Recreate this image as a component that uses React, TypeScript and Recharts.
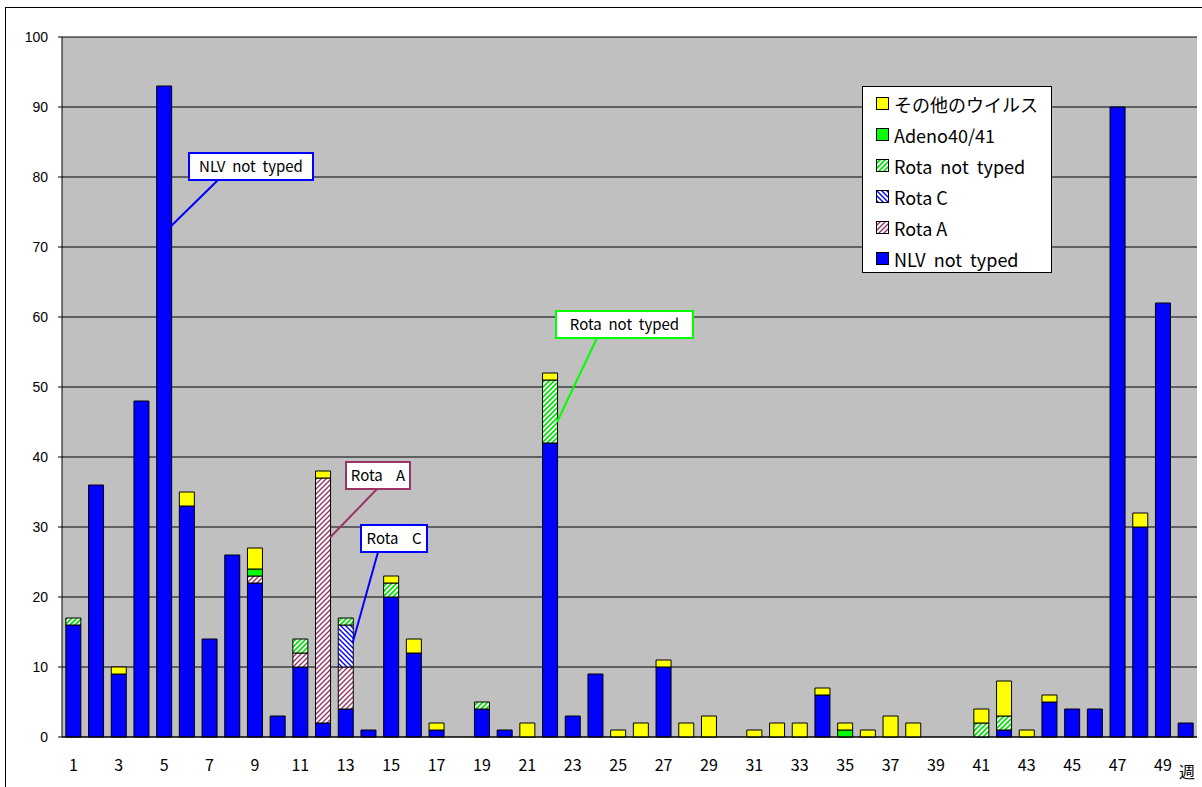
import React from 'react';
import {
  BarChart,
  Bar,
  XAxis,
  YAxis,
  CartesianGrid,
} from 'recharts';

// 週番号
const weeks = Array.from({ length: 50 }, (_, i) => String(i + 1));

// 各系列の検出数（週1〜50）
const nlv = [16, 36, 9, 48, 93, 33, 14, 26, 22, 3, 10, 2, 4, 1, 20, 12, 1, 0, 4, 1, 0, 42, 3, 9, 0, 0, 10, 0, 0, 0, 0, 0, 0, 6, 0, 0, 0, 0, 0, 0, 0, 1, 0, 5, 4, 4, 90, 30, 62, 2];
const rotaA = [0, 0, 0, 0, 0, 0, 0, 0, 1, 0, 2, 35, 6, 0, 0, 0, 0, 0, 0, 0, 0, 0, 0, 0, 0, 0, 0, 0, 0, 0, 0, 0, 0, 0, 0, 0, 0, 0, 0, 0, 0, 0, 0, 0, 0, 0, 0, 0, 0, 0];
const rotaC = [0, 0, 0, 0, 0, 0, 0, 0, 0, 0, 0, 0, 6, 0, 0, 0, 0, 0, 0, 0, 0, 0, 0, 0, 0, 0, 0, 0, 0, 0, 0, 0, 0, 0, 0, 0, 0, 0, 0, 0, 0, 0, 0, 0, 0, 0, 0, 0, 0, 0];
const rotaNT = [1, 0, 0, 0, 0, 0, 0, 0, 0, 0, 2, 0, 1, 0, 2, 0, 0, 0, 1, 0, 0, 9, 0, 0, 0, 0, 0, 0, 0, 0, 0, 0, 0, 0, 0, 0, 0, 0, 0, 0, 2, 2, 0, 0, 0, 0, 0, 0, 0, 0];
const adeno = [0, 0, 0, 0, 0, 0, 0, 0, 1, 0, 0, 0, 0, 0, 0, 0, 0, 0, 0, 0, 0, 0, 0, 0, 0, 0, 0, 0, 0, 0, 0, 0, 0, 0, 1, 0, 0, 0, 0, 0, 0, 0, 0, 0, 0, 0, 0, 0, 0, 0];
const other = [0, 0, 1, 0, 0, 2, 0, 0, 3, 0, 0, 1, 0, 0, 1, 2, 1, 0, 0, 0, 2, 1, 0, 0, 1, 2, 1, 2, 3, 0, 1, 2, 2, 1, 1, 1, 3, 2, 0, 0, 2, 5, 1, 1, 0, 0, 0, 2, 0, 0];

const yTicks = [0, 10, 20, 30, 40, 50, 60, 70, 80, 90, 100];

const data = weeks.map((w, i) => ({
  week: w,
  nlv: nlv[i],
  rotaA: rotaA[i],
  rotaC: rotaC[i],
  rotaNT: rotaNT[i],
  adeno: adeno[i],
  other: other[i],
}));

const SP2 = ' \u00A0';

// 凡例（上から表示順）
const legendItems = [
  { label: 'その他のウイルス', fill: '#FFFF00' },
  { label: 'Adeno40/41', fill: '#00FF00' },
  { label: `Rota${SP2}not${SP2}typed`, fill: 'url(#pRotaNT)' },
  { label: 'Rota C', fill: 'url(#pRotaC)' },
  { label: 'Rota A', fill: 'url(#pRotaA)' },
  { label: `NLV${SP2}not${SP2}typed`, fill: '#0000FF' },
];

const W = 1202;
const H = 787;
const PLOT_L = 62;
const PLOT_T = 37;
const PLOT_W = 1135;
const PLOT_H = 700;
const JP = '"Noto Sans CJK JP", "Noto Sans", sans-serif';

const xOf = (week: number) => PLOT_L + ((week - 0.5) * PLOT_W) / weeks.length;
const yOf = (v: number) => PLOT_T + PLOT_H - (v * PLOT_H) / 100;

const Patterns = () => (
  <defs>
    <pattern id="pRotaNT" patternUnits="userSpaceOnUse" width="5" height="5">
      <rect width="5" height="5" fill="#fff" />
      <path d="M-1,1 l2,-2 M0,5 l5,-5 M4,6 l2,-2" stroke="#00E000" strokeWidth="1.6" />
    </pattern>
    <pattern id="pRotaA" patternUnits="userSpaceOnUse" width="5" height="5">
      <rect width="5" height="5" fill="#fff" />
      <path d="M-1,1 l2,-2 M0,5 l5,-5 M4,6 l2,-2" stroke="#993366" strokeWidth="1.4" />
    </pattern>
    <pattern id="pRotaC" patternUnits="userSpaceOnUse" width="5" height="5">
      <rect width="5" height="5" fill="#fff" />
      <path d="M-1,4 l2,2 M0,0 l5,5 M4,-1 l2,2" stroke="#0000FF" strokeWidth="1.4" />
    </pattern>
  </defs>
);

const LegendBox = () => (
  <div
    style={{
      position: 'absolute',
      left: 862,
      top: 86,
      boxSizing: 'border-box',
      width: 190,
      height: 187,
      border: '1px solid #000',
      background: '#fff',
      padding: '1px 0 0 13px',
      fontFamily: JP,
      fontSize: 18,
      color: '#000',
    }}
  >
    {legendItems.map((it) => (
      <div key={it.label} style={{ display: 'flex', alignItems: 'center', height: 31 }}>
        <svg width={13} height={13} style={{ marginRight: 5, flex: 'none' }}>
          <Patterns />
          <rect x={0.5} y={0.5} width={12} height={12} fill={it.fill} stroke="#000" />
        </svg>
        <span style={{ whiteSpace: 'nowrap' }}>{it.label}</span>
      </div>
    ))}
  </div>
);

const XTick = ({ x, y, payload }: any) => (
  <text x={x} y={y + 26} textAnchor="middle" fontFamily={JP} fontSize={16} fill="#000">
    {payload.value}
  </text>
);

// 吹き出し注記
const callouts = [
  { text: `NLV${SP2}not${SP2}typed`, color: '#0000FF', box: [189, 153, 124, 27], from: [218, 180], week: 5, value: 73 },
  { text: `Rota${SP2}${SP2}A`, color: '#993366', box: [346, 462, 64, 27], from: [377, 489], week: 12, value: 28.5 },
  { text: `Rota${SP2}${SP2}C`, color: '#0000FF', box: [361, 525, 66, 27], from: [378, 552], week: 13, value: 13.5 },
  { text: `Rota${SP2}not${SP2}typed`, color: '#00FF00', box: [556, 311, 137, 27], from: [597, 338], week: 22, value: 45 },
];

const Callouts = () => (
  <svg width={W} height={H} style={{ position: 'absolute', left: 0, top: 0, pointerEvents: 'none' }}>
    {callouts.map((c) => {
      const [bx, by, bw, bh] = c.box;
      return (
        <g key={c.text}>
          <line x1={c.from[0]} y1={c.from[1]} x2={xOf(c.week) + 7} y2={yOf(c.value)} stroke={c.color} strokeWidth={2} />
          <rect x={bx} y={by} width={bw} height={bh} fill="#fff" stroke={c.color} strokeWidth={2} />
          <text x={bx + bw / 2} y={by + bh / 2 + 5} textAnchor="middle" fontFamily={JP} fontSize={15} fill="#000">
            {c.text}
          </text>
        </g>
      );
    })}
    <text x={1187} y={778} textAnchor="middle" fontFamily={JP} fontSize={16} fill="#000">
      週
    </text>
  </svg>
);

const App: React.FC = () => {
  const barProps = { stackId: 's', stroke: '#000', strokeWidth: 1, isAnimationActive: false };
  return (
    <div style={{ position: 'absolute', left: 0, top: 0, width: W, height: H, background: '#fff', overflow: 'hidden' }}>
      <div style={{ position: 'absolute', left: 5, top: 7, width: W, height: H, border: '1px solid #000' }} />
      <div style={{ position: 'absolute', left: 0, top: 0 }}>
        <BarChart
          width={W}
          height={H}
          data={data}
          margin={{ top: PLOT_T, right: W - PLOT_L - PLOT_W, bottom: 0, left: 0 }}
          barCategoryGap="17%"
        >
          <Patterns />
          <CartesianGrid vertical={false} stroke="#000" fill="#C0C0C0" />
          <XAxis
            dataKey="week"
            height={H - PLOT_T - PLOT_H}
            interval={1}
            tickLine={false}
            axisLine={{ stroke: '#000' }}
            tick={<XTick />}
          />
          <YAxis
            width={PLOT_L}
            domain={[0, 100]}
            ticks={yTicks}
            tickSize={4}
            tickMargin={10}
            axisLine={{ stroke: '#000' }}
            tickLine={{ stroke: '#000' }}
            tick={{ fill: '#000', fontSize: 14, fontFamily: '"Liberation Sans", Arial, sans-serif' }}
          />
          <Bar dataKey="nlv" name="NLV not typed" fill="#0000FF" {...barProps} />
          <Bar dataKey="rotaA" name="Rota A" fill="url(#pRotaA)" {...barProps} />
          <Bar dataKey="rotaC" name="Rota C" fill="url(#pRotaC)" {...barProps} />
          <Bar dataKey="rotaNT" name="Rota not typed" fill="url(#pRotaNT)" {...barProps} />
          <Bar dataKey="adeno" name="Adeno40/41" fill="#00FF00" {...barProps} />
          <Bar dataKey="other" name="その他のウイルス" fill="#FFFF00" {...barProps} />
        </BarChart>
      </div>
      <LegendBox />
      <Callouts />
    </div>
  );
};

export default App;
